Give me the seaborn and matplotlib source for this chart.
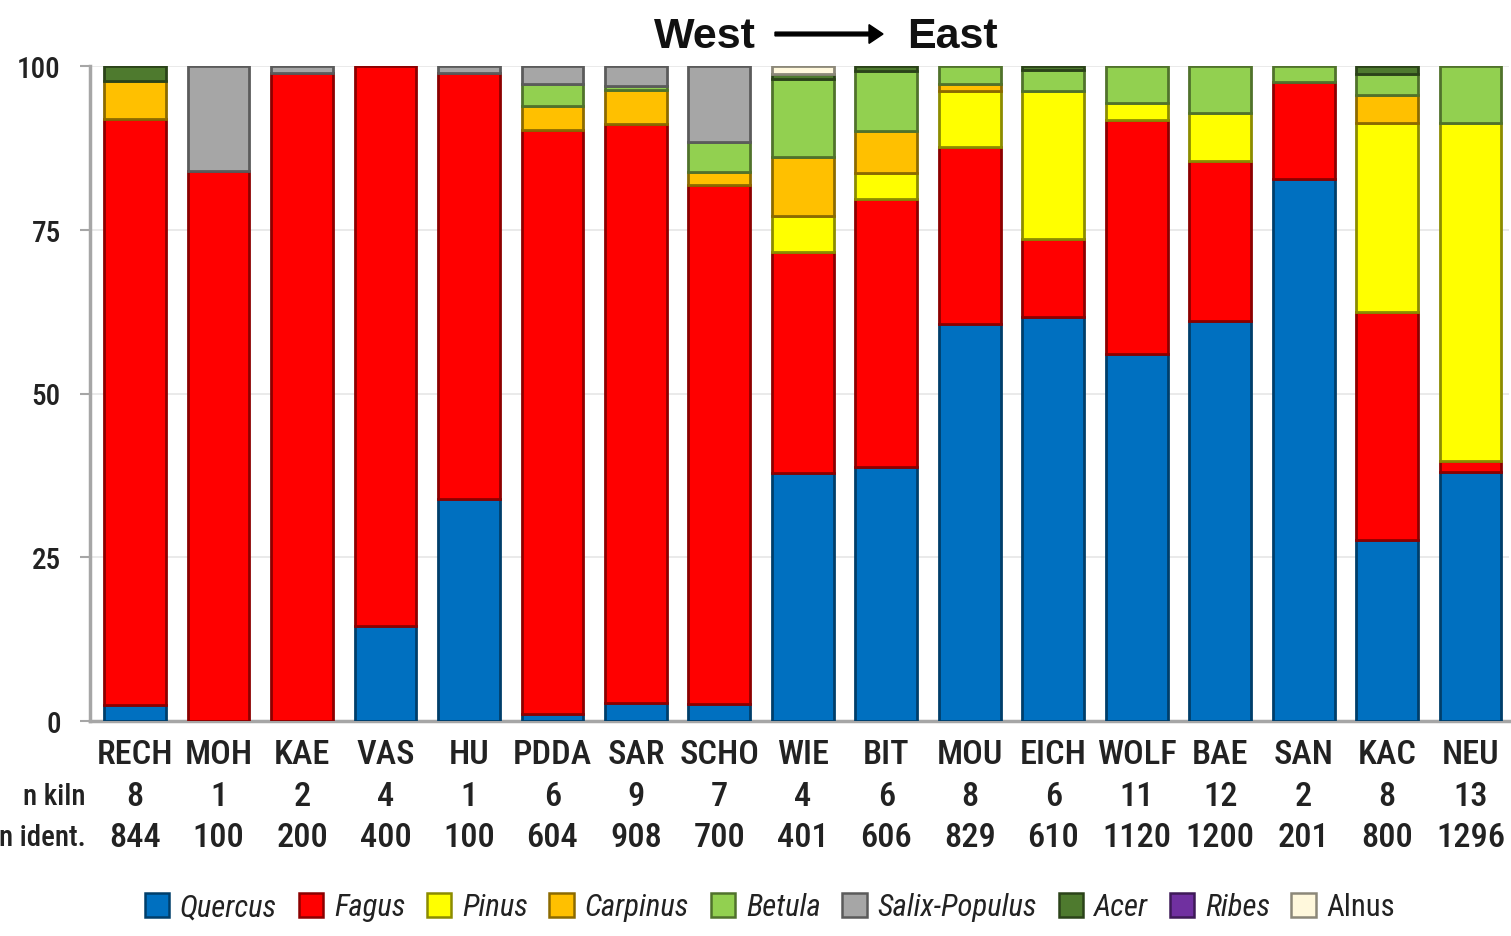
import numpy as np
import pandas as pd
import matplotlib
matplotlib.use("Agg")
import matplotlib.pyplot as plt
import seaborn as sns
from matplotlib import font_manager
from matplotlib.patches import Patch
import matplotlib.transforms as mtransforms

# ---------------- data ----------------
sites = ["RECH", "MOH", "KAE", "VAS", "HU", "PDDA", "SAR", "SCHO", "WIE", "BIT",
         "MOU", "EICH", "WOLF", "BAE", "SAN", "KAC", "NEU"]
n_kiln = ["8", "1", "2", "4", "1", "6", "9", "7", "4", "6", "8", "6", "11", "12", "2", "8", "13"]
n_ident = ["844", "100", "200", "400", "100", "604", "908", "700", "401", "606",
           "829", "610", "1120", "1200", "201", "800", "1296"]

quercus  = [2.4, 0, 0, 14.5, 33.9, 1.0, 2.8, 2.6, 37.9, 38.8, 60.6, 61.7, 56.0, 61.1, 82.7, 27.6, 38.0]
fagus    = [89.5, 84.0, 98.9, 85.5, 65.0, 89.3, 88.3, 79.2, 33.7, 40.9, 27.0, 11.9, 35.7, 24.4, 14.9, 34.8, 1.7]
pinus    = [0, 0, 0, 0, 0, 0, 0, 0, 5.5, 4.0, 8.6, 22.6, 2.7, 7.3, 0, 28.9, 51.6]
carpinus = [5.8, 0, 0, 0, 0, 3.6, 5.2, 2.0, 9.0, 6.4, 1.0, 0, 0, 0, 0, 4.3, 0]
betula   = [0, 0, 0, 0, 0, 3.3, 0.6, 4.6, 11.9, 9.1, 2.8, 3.2, 5.6, 7.2, 2.4, 3.2, 8.7]
salix    = [0, 16.0, 1.1, 0, 1.1, 2.8, 3.1, 11.6, 0, 0, 0, 0, 0, 0, 0, 0, 0]
acer     = [2.3, 0, 0, 0, 0, 0, 0, 0, 0.8, 0.8, 0, 0.6, 0, 0, 0, 1.2, 0]
ribes    = [0] * 17
alnus    = [0, 0, 0, 0, 0, 0, 0, 0, 1.2, 0, 0, 0, 0, 0, 0, 0, 0]

species = ["Quercus", "Fagus", "Pinus", "Carpinus", "Betula", "Salix-Populus", "Acer", "Ribes", "Alnus"]
values = [quercus, fagus, pinus, carpinus, betula, salix, acer, ribes, alnus]
colors = ["#0070C0", "#FF0000", "#FFFF00", "#FFC000", "#92D050", "#A6A6A6", "#4E7A2E", "#7030A0", "#FFF8DC"]

# ---------------- fonts: prefer a narrow / condensed face ----------------
FONT, STRETCH = "DejaVu Sans", "normal"
names = {f.name for f in font_manager.fontManager.ttflist}
for cand in ["Liberation Sans Narrow", "Roboto Condensed", "Open Sans Condensed",
             "Noto Sans Condensed", "DejaVu Sans Condensed", "Arial Narrow"]:
    if cand in names:
        FONT = cand
        break
else:
    for f in font_manager.fontManager.ttflist:
        st = str(f.stretch).lower()
        if ("condensed" in st or "narrow" in f.fname.lower()) and "mono" not in f.fname.lower() \
                and "serif" not in f.fname.lower():
            FONT, STRETCH = f.name, f.stretch
            break

sns.set_theme(style="white")
plt.rcParams["font.family"] = [FONT, "DejaVu Sans"]
plt.rcParams["font.stretch"] = STRETCH

W, H = 1511, 937
fig = plt.figure(figsize=(W / 100, H / 100), dpi=100)
ax = fig.add_axes([90 / W, 1 - 722 / H, (W - 92) / W, (722 - 67) / H])

df = pd.DataFrame({"site": sites})
bottom = np.zeros(len(sites))


def darker(c, f=0.55):
    r, g, b = matplotlib.colors.to_rgb(c)
    return (r * f, g * f, b * f)


for sp, vals, col in zip(species, values, colors):
    vals = np.array(vals, dtype=float)
    df["v"] = vals
    n_before = len(ax.patches)
    sns.barplot(data=df, x="site", y="v", order=sites, color=col, saturation=1,
                errorbar=None, width=0.74, bottom=bottom, edgecolor=darker(col),
                linewidth=2.0, ax=ax, zorder=3)
    for p, v in zip(ax.patches[n_before:], vals):
        if v <= 0:
            p.set_visible(False)
    bottom = bottom + vals

ax.set_xlim(-0.54, len(sites) - 1 + 0.46)
ax.set_ylim(0, 100)
ax.set_yticks([0, 25, 50, 75, 100])
ax.yaxis.grid(True, color="#e6e6e6", linewidth=1.2, zorder=0)
ax.xaxis.grid(False)
ax.set_xlabel("")
ax.set_ylabel("")
for s in ["top", "right"]:
    ax.spines[s].set_visible(False)
for s in ["left", "bottom"]:
    ax.spines[s].set_color("#a6a6a6")
    ax.spines[s].set_linewidth(2.5)
ax.tick_params(axis="y", which="major", left=True, length=7, width=1.5, color="#a6a6a6",
               labelsize=21, pad=14, labelcolor="#222222")
for t in ax.get_yticklabels():
    t.set_fontweight("medium")
ax.tick_params(axis="x", which="major", bottom=False, labelsize=28, pad=6, labelcolor="#222222")
ax.set_xticks(range(len(sites)))
ax.set_xticklabels(sites, fontweight="medium")

trans = mtransforms.blended_transform_factory(ax.transData, ax.transAxes)
y_kiln = -(797 - 722) / 655
y_ident = -(838 - 722) / 655
row_texts = []
for i in range(len(sites)):
    row_texts.append(ax.text(i, y_kiln, n_kiln[i], transform=trans, ha="center", va="center",
                             fontsize=28, color="#222222", fontweight="medium"))
    row_texts.append(ax.text(i, y_ident, n_ident[i], transform=trans, ha="center", va="center",
                             fontsize=28, color="#222222", fontweight="medium"))
head_texts = [
    ax.text(-0.003, y_kiln, "n kiln", transform=ax.transAxes, ha="right", va="center",
            fontsize=28, color="#222222", fontweight="medium"),
    ax.text(-0.003, y_ident, "n ident.", transform=ax.transAxes, ha="right", va="center",
            fontsize=28, color="#222222", fontweight="medium"),
]

# title West -> East
fig.text(705 / W, 1 - 37 / H, "West", ha="center", va="center", fontsize=31,
         fontweight="bold", family="Liberation Sans", color="#111111")
fig.text(952 / W, 1 - 37 / H, "East", ha="center", va="center", fontsize=31,
         fontweight="bold", family="Liberation Sans", color="#111111")
fig.patches.append(matplotlib.patches.FancyArrow(
    775 / W, 1 - 35 / H, 108 / W, 0, width=0.004, head_width=0.02, head_length=14 / W,
    length_includes_head=True, transform=fig.transFigure, color="black"))

handles = [Patch(facecolor=c, edgecolor=darker(c), linewidth=1.8) for c in colors]


def make_legend(fs):
    leg = fig.legend(handles, species, loc="center", bbox_to_anchor=(770 / W, 1 - 908 / H),
                     ncol=9, frameon=False, fontsize=fs, handlelength=0.8, handleheight=0.8,
                     handletextpad=0.35, columnspacing=0.7)
    for t, sp in zip(leg.get_texts(), species):
        if sp != "Alnus":
            t.set_style("italic")
        t.set_color("#222222")
    return leg


leg = make_legend(27)

# ---- fit texts into the available room ----
fig.canvas.draw()
r = fig.canvas.get_renderer()
lab_texts = list(ax.get_xticklabels()) + row_texts
maxw = max(t.get_window_extent(r).width for t in lab_texts)
fs_row = 28 * min(1.0, 80 / maxw)
for t in lab_texts:
    t.set_fontsize(fs_row)
hw = max(t.get_window_extent(r).width for t in head_texts)
fs_head = 28 * min(1.0, 87 / hw)
for t in head_texts:
    t.set_fontsize(min(fs_head, fs_row))
lw_ = leg.get_window_extent(r).width
if lw_ > 1275:
    leg.remove()
    leg = make_legend(27 * 1275 / lw_)

fig.savefig("out.png", dpi=100)
